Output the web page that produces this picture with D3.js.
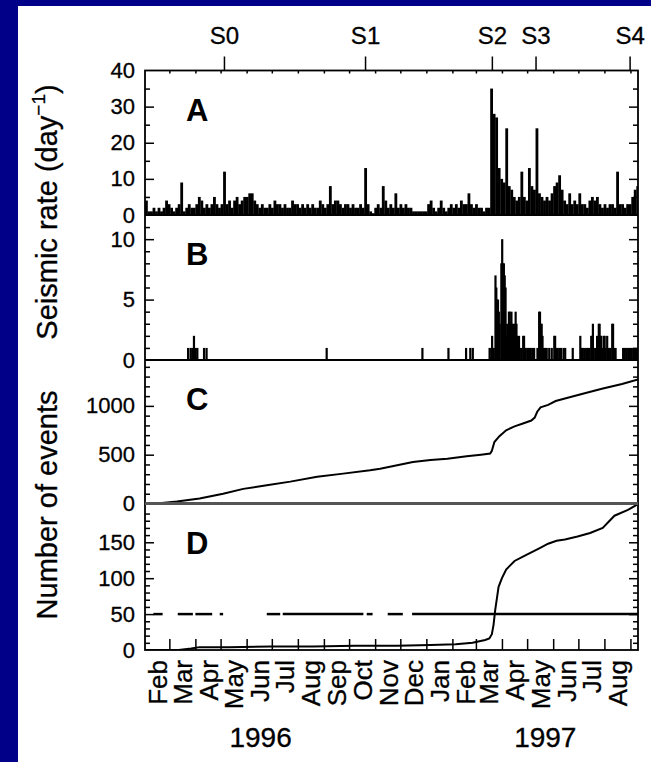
<!DOCTYPE html>
<html>
<head>
<meta charset="utf-8">
<script src="https://cdn.jsdelivr.net/npm/d3@7/dist/d3.min.js"></script>
<style>
  body { margin: 0; background: #fff; }
</style>
</head>
<body>
<svg id="chart" width="651" height="762"></svg>
<script>
// ---- datos (dias contados desde el 1 feb 1996) ----
var startDate = new Date(1996, 1, 1);
var endDate = new Date(1997, 8, 10);

// A: tasa sismica diaria, un valor por cada bloque de 3 dias
var binDays = 3;
var rateA = [
  4,1,1,2,1,2,1,2,4,3,
  2,1,2,3,9,1,2,3,2,2,
  3,5,4,2,3,2,3,5,3,2,
  3,12,3,4,2,4,5,3,4,5,
  5,6,6,4,3,2,3,2,2,3,
  2,4,3,3,2,3,2,2,4,3,
  3,2,3,2,3,2,3,2,2,4,
  3,2,3,8,3,4,4,3,2,3,
  3,2,3,2,2,3,2,13,3,1,
  0.5,2,3,2,8,4,2,3,2,6,
  2,3,2,3,2,2,1,1,1,1,
  1,1,3,4,2,1,2,4,2,1,
  2,3,2,3,2,4,3,3,6,3,
  2,3,2,2,1,2,2,35,28,27,
  13,10,9,24,8,7,5,4,5,12,
  5,4,13,8,7,24,6,5,4,5,
  4,6,8,9,11,7,4,3,6,3,
  4,3,6,3,3,2,4,5,4,5,
  3,2,3,2,3,3,2,12,3,3,
  2,3,3,5,7,8
];

// B: tasa de los eventos mayores (dia, valor)
var bigDays = [50,53,55,57,59,61,69,72,215,329,360,381,386,389,
  409,411,412,414,416,417,418,419,420,421,423,424,425,426,427,428,429,430,
  431,432,433,434,435,436,437,438,439,440,441,442,443,444,445,447,449,450,
  451,452,454,456,458,460,462,466,468,469,470,471,472,473,475,477,480,483,
  486,487,488,490,492,494,497,499,508,517,518,520,522,524,526,528,530,531,
  532,533,535,537,539,540,541,542,543,545,546,547,549,551,553,555,556,557,
  559,568,570,572,574,576,578,580,582,584,586];
var bigCounts = [1,1,1,2,1,1,1,1,1,1,1,1,1,1,
  1,1,2,1,7,6,5,5,4,3,8,10,8,8,7,6,2,3,
  2,4,4,3,4,3,2,3,2,4,3,2,1,2,1,1,2,2,
  1,1,1,1,1,1,1,1,4,4,3,3,2,1,1,1,1,1,
  2,2,1,1,1,1,1,1,1,2,1,1,1,1,1,1,2,2,
  3,1,1,2,3,3,2,2,1,2,2,1,2,1,1,3,3,1,
  1,1,1,1,1,1,1,1,1,1,1];

// C: numero acumulado de eventos
var cumAllDays = [0,20,38,65,93,117,145,173,205,236,268,280,319,340,360,383,400,411,
  413,416,422,430,440,450,460,464,467,471,480,489,500,519,544,568,587];
var cumAllVals = [0,5,20,51,100,150,187,224,275,306,340,357,425,445,459,483,500,512,
  540,630,690,750,790,820,850,880,940,985,1010,1050,1075,1120,1175,1225,1270];

// D: numero acumulado de eventos mayores
var cumBigDays = [0,40,55,65,100,150,200,250,300,340,370,390,405,410,413,415,417,419,
  421,425,430,440,450,460,470,480,490,500,515,530,545,559,575,587];
var cumBigVals = [0,0,2,4,4,5,5,6,6,7,8,10,14,16,22,35,56,72,
  88,100,112,124,130,136,142,148,152,154,158,163,170,187,195,203];

// D: umbral de 50 (tramos con datos)
var threshold = 50;
var threshFrom = [10,39,60,89,145,164,264,289,318];
var threshTo   = [21,57,80,93,161,260,271,307,587];

// estaciones del eje superior
var stationNames = ["S0","S1","S2","S3","S4"];
var stationDays = [94,262,413,465,577];

// rotulos de anio
var yearNames = ["1996","1997"];
var yearDates = [new Date(1996,5,17), new Date(1997,4,22)];

// ---- geometria ----
var FONT = "'Liberation Sans', Arial, Helvetica, sans-serif";
var left = 145, right = 638;
var yTop = 70.5, yAB = 215, yBC = 360, yCD = 503.5, yBot = 650;

function dayDate(d){ return d3.timeDay.offset(startDate, d); }

var svg = d3.select("#chart");

//fondo azul de la diapositiva
svg.append("rect").attr("width",651).attr("height",762).attr("fill","#fff");
svg.append("rect").attr("width",651).attr("height",6).attr("fill","#000088");
svg.append("rect").attr("width",18).attr("height",762).attr("fill","#000088");

var x = d3.scaleTime().domain([startDate, endDate]).range([left, right]);
var yA = d3.scaleLinear().domain([0,40]).range([yAB, yTop]);
var yB = d3.scaleLinear().domain([0,12]).range([yBC, yAB]);
var yC = d3.scaleLinear().domain([0,1470]).range([yCD, yBC]);
var yD = d3.scaleLinear().domain([0,204]).range([yBot, yCD]);

svg.append("clipPath").attr("id","clip")
   .append("rect").attr("x",left).attr("y",yTop).attr("width",right-left).attr("height",yBot-yTop);

var plot = svg.append("g").attr("clip-path","url(#clip)");

// A: barras
plot.append("g").selectAll("rect")
    .data(rateA)
    .enter().append("rect")
    .attr("x", function(d,i){ return x(dayDate(i*binDays)); })
    .attr("width", function(d,i){ return x(dayDate((i+1)*binDays)) - x(dayDate(i*binDays)) + 0.3; })
    .attr("y", function(d){ return yA(d); })
    .attr("height", function(d){ return yA(0) - yA(d); })
    .attr("fill","#000");

// B: barras
plot.append("g").selectAll("rect")
    .data(bigDays)
    .enter().append("rect")
    .attr("x", function(d){ return x(dayDate(d)); })
    .attr("width", 2.2)
    .attr("y", function(d,i){ return yB(bigCounts[i]); })
    .attr("height", function(d,i){ return yB(0) - yB(bigCounts[i]); })
    .attr("fill","#000");

// C y D: curvas acumuladas
var lineC = d3.line()
    .x(function(d){ return x(dayDate(d)); })
    .y(function(d,i){ return yC(cumAllVals[i]); });
plot.append("path").attr("d", lineC(cumAllDays))
    .attr("fill","none").attr("stroke","#000").attr("stroke-width",2);

var lineD = d3.line()
    .x(function(d){ return x(dayDate(d)); })
    .y(function(d,i){ return yD(cumBigVals[i]); });
plot.append("path").attr("d", lineD(cumBigDays))
    .attr("fill","none").attr("stroke","#000").attr("stroke-width",2);

// umbral
plot.append("g").selectAll("line")
    .data(threshFrom)
    .enter().append("line")
    .attr("x1", function(d){ return x(dayDate(d)); })
    .attr("x2", function(d,i){ return x(dayDate(threshTo[i])); })
    .attr("y1", yD(threshold)).attr("y2", yD(threshold))
    .attr("stroke","#000").attr("stroke-width",2.5);

// ---- ejes ----
function styleAxis(g){
  g.select(".domain").remove();
  g.selectAll("line").attr("stroke","#000").attr("stroke-width",1.5);
  g.selectAll("text").attr("font-family",FONT).attr("fill","#000")
   .attr("stroke","#000").attr("stroke-width",0.3);
}

function yAxes(scale, majors, minors, labels){
  var gl = svg.append("g").attr("transform","translate("+left+",0)");
  gl.call(d3.axisLeft(scale).tickValues(minors).tickSize(-5).tickFormat(""));
  styleAxis(gl);
  var gm = svg.append("g").attr("transform","translate("+left+",0)");
  gm.call(d3.axisLeft(scale).tickValues(labels).tickSize(-9).tickPadding(10).tickFormat(d3.format("d")));
  styleAxis(gm);
  gm.selectAll("text").attr("font-size",22);
  gm.selectAll("line").filter(function(d){ return majors.indexOf(d) < 0; }).remove();
  var gr = svg.append("g").attr("transform","translate("+right+",0)");
  gr.call(d3.axisRight(scale).tickValues(minors).tickSize(-5).tickFormat(""));
  styleAxis(gr);
  var gr2 = svg.append("g").attr("transform","translate("+right+",0)");
  gr2.call(d3.axisRight(scale).tickValues(majors).tickSize(-9).tickFormat(""));
  styleAxis(gr2);
}

yAxes(yA, [10,20,30], [5,15,25,35], [0,10,20,30,40]);
yAxes(yB, [5,10], [1,2,3,4,6,7,8,9,11], [0,5,10]);
yAxes(yC, [500,1000], d3.range(100,1470,100).filter(function(v){ return v % 500; }), [0,500,1000]);
yAxes(yD, [50,100,150], d3.range(10,204,10).filter(function(v){ return v % 50; }), [0,50,100,150]);

// eje inferior: meses
var monthStarts = d3.timeMonth.range(d3.timeMonth.offset(startDate,1), endDate);
var gb = svg.append("g").attr("transform","translate(0,"+yBot+")");
gb.call(d3.axisBottom(x).tickValues(monthStarts).tickSize(-11).tickFormat(""));
styleAxis(gb);

var monthMids = d3.timeMonth.range(startDate, d3.timeMonth.floor(endDate)).map(function(m){ return d3.timeDay.offset(m,15); });
var gbl = svg.append("g").attr("transform","translate(0,"+yBot+")");
gbl.call(d3.axisBottom(x).tickValues(monthMids).tickSize(0).tickFormat(d3.timeFormat("%b")));
styleAxis(gbl);
gbl.selectAll("text")
   .attr("font-size",26)
   .attr("text-anchor","end")
   .attr("transform","rotate(-90)")
   .attr("x",-10).attr("y",0).attr("dy","0.36em");

// anios
var gy = svg.append("g").attr("transform","translate(0,"+yBot+")");
gy.call(d3.axisBottom(x).tickValues(yearDates).tickSize(0).tickPadding(97)
   .tickFormat(function(d,i){ return yearNames[i]; }));
styleAxis(gy);
gy.selectAll("text").attr("font-size",28).attr("dy",0);

// eje superior: estaciones
var gt = svg.append("g").attr("transform","translate(0,"+yTop+")");
gt.call(d3.axisTop(x).tickValues(stationDays.map(dayDate)).tickSize(14).tickPadding(13)
   .tickFormat(function(d,i){ return stationNames[i]; }));
styleAxis(gt);
gt.selectAll("text").attr("font-size",24);

var gt2 = svg.append("g").attr("transform","translate(0,"+yTop+")");
gt2.call(d3.axisTop(x).tickValues(monthStarts).tickSize(-3).tickFormat(""));
styleAxis(gt2);

// marco y divisiones
svg.append("rect").attr("x",left).attr("y",yTop).attr("width",right-left).attr("height",yBot-yTop)
   .attr("fill","none").attr("stroke","#000").attr("stroke-width",1.8);
svg.append("line").attr("x1",left).attr("x2",right).attr("y1",yAB).attr("y2",yAB)
   .attr("stroke","#000").attr("stroke-width",1.8);
svg.append("line").attr("x1",left).attr("x2",right).attr("y1",yBC).attr("y2",yBC)
   .attr("stroke","#000").attr("stroke-width",2);
svg.append("line").attr("x1",left).attr("x2",right).attr("y1",yCD).attr("y2",yCD)
   .attr("stroke","#555").attr("stroke-width",3);

// letras de los paneles
var panelNames = ["A","B","C","D"];
var panelTops = [yTop, yAB, yBC, yCD];
svg.append("g").selectAll("text")
   .data(panelNames)
   .enter().append("text")
   .attr("x",186)
   .attr("y",function(d,i){ return panelTops[i] + 50; })
   .attr("font-family",FONT).attr("font-weight","bold").attr("font-size",31)
   .text(function(d){ return d; });

// titulos de los ejes
var t1 = svg.append("text")
   .attr("transform","translate(57,212) rotate(-90)")
   .attr("text-anchor","middle")
   .attr("font-family",FONT).attr("font-size",29)
   .attr("stroke","#000").attr("stroke-width",0.3);
t1.append("tspan").text("Seismic rate (day");
t1.append("tspan").attr("font-size",19).attr("dy",-12).text("\u22121");
t1.append("tspan").attr("dy",12).text(")");

svg.append("text")
   .attr("transform","translate(57,505) rotate(-90)")
   .attr("text-anchor","middle")
   .attr("font-family",FONT).attr("font-size",29)
   .attr("stroke","#000").attr("stroke-width",0.3)
   .text("Number of events");
</script>
</body>
</html>
